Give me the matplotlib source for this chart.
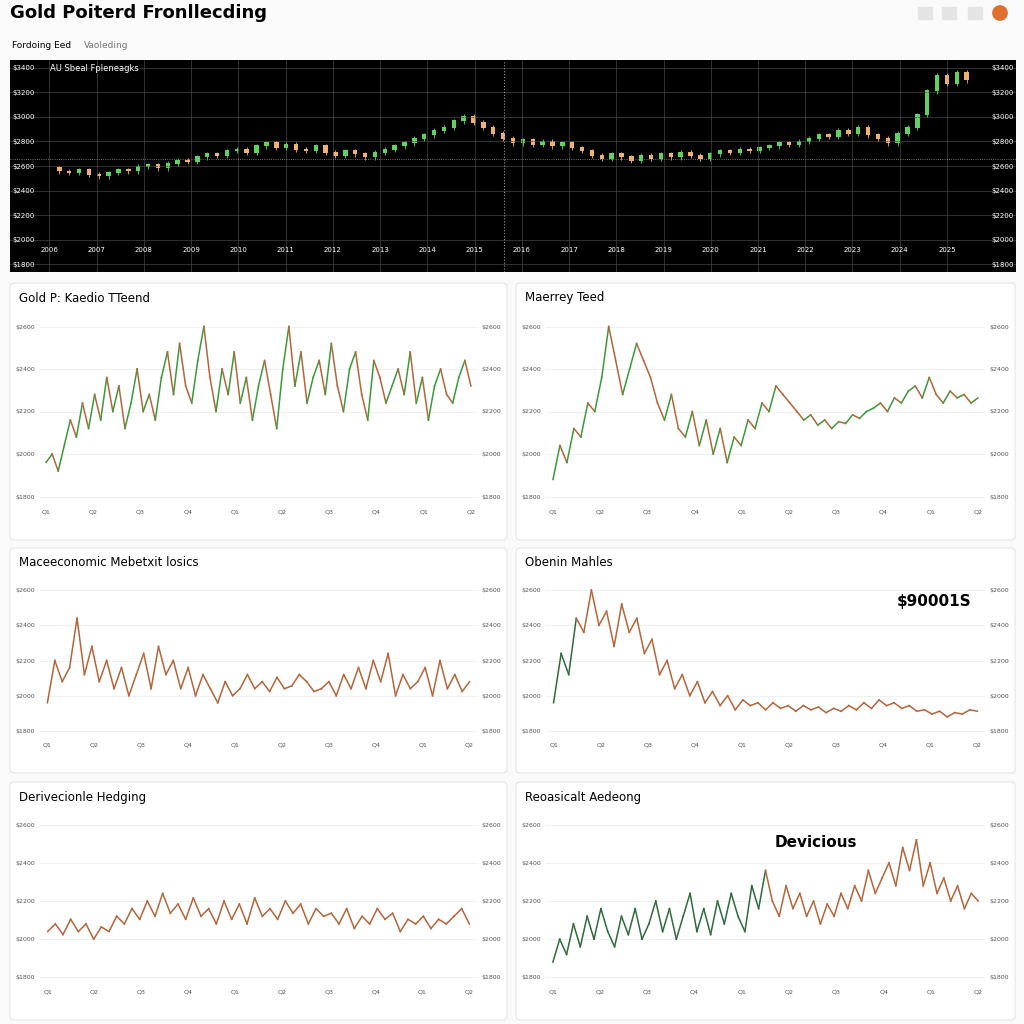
import numpy as np
import matplotlib.pyplot as plt
from matplotlib.patches import FancyBboxPatch, Rectangle

# dados (unidades relativas 0-100)
top_close = [36,34,33,35,32,31,33,35,34,37,38,36,39,41,40,43,45,44,47,48,46,50,52,49,51,48,47,50,46,44,
             47,45,43,46,48,50,52,55,57,60,62,66,69,65,62,58,55,52,54,51,53,50,52,49,47,44,42,45,43,41,
             44,42,45,43,46,44,42,45,47,46,48,47,49,50,52,51,53,55,57,56,60,58,62,57,55,52,58,62,70,85,
             95,90,97,92]
top_xlabels = ['2006','2007','2008','2009','2010','2011','2012','2013','2014','2015','2016','2017',
               '2018','2019','2020','2021','2022','2023','2024','2025']
top_ylabels = ['$3400','$3200','$3000','$2800','$2600','$2400','$2200','$2000','$1800']

trend = [20,25,15,30,45,35,55,40,60,45,70,50,65,40,55,75,50,60,45,70,85,60,90,65,55,80,100,70,50,75,
         60,85,55,70,45,65,80,60,40,75,100,65,85,55,70,80,60,90,65,50,75,85,60,45,80,70,55,65,75,60,
         85,55,70,45,65,75,60,55,70,80,65]
markov = [10,30,20,40,35,55,50,70,100,80,60,75,90,80,70,55,45,60,40,35,50,30,45,25,40,20,35,30,45,40,
          55,50,65,60,55,50,45,48,42,45,40,44,43,48,46,50,52,55,50,58,55,62,65,58,70,60,55,62,58,60,55,58]
macro = [20,50,35,45,80,40,60,35,50,30,45,25,40,55,30,60,40,50,30,45,25,40,30,20,35,25,30,40,30,35,
         28,38,30,32,40,35,28,30,35,25,40,30,45,30,50,35,55,25,40,30,35,45,25,50,30,40,28,35]
obrain = [20,55,40,80,70,100,75,85,60,90,70,80,55,65,40,50,30,40,25,35,20,28,18,25,15,22,18,20,15,
          20,16,18,14,18,15,17,13,16,14,18,15,20,16,22,18,20,16,18,14,15,12,14,10,13,12,15,14]
hedging = [30,35,28,38,30,35,25,33,30,40,35,45,38,50,40,55,42,48,38,52,40,45,35,50,38,48,35,52,40,
           45,38,50,42,48,35,45,40,42,35,45,32,40,35,45,38,42,30,38,35,40,32,38,35,40,45,35]
accord = [10,25,15,35,20,40,25,45,30,20,40,28,45,25,35,50,30,45,25,40,55,30,45,28,50,35,55,40,30,60,
          45,70,50,40,60,45,55,40,50,35,48,40,55,45,60,50,70,55,65,75,60,85,70,90,60,75,55,65,50,60,45,55,50]

green = '#3a9a3a'
brown = '#b5653a'

fig = plt.figure(figsize=(10.24, 10.24), dpi=100)
fig.patch.set_facecolor('#fafafa')

def px(x, y, w, h):
    return [x / 1024, 1 - (y + h) / 1024, w / 1024, h / 1024]

fig.text(10/1024, 1 - 13/1024, 'Gold Poiterd Fronllecding', fontsize=13, fontweight='bold', va='center')
fig.text(12/1024, 1 - 46/1024, 'Fordoing Eed', fontsize=6.5, va='center')
fig.text(84/1024, 1 - 46/1024, 'Vaoleding', fontsize=6.5, color='#777', va='center')
for xx in [924, 948, 974]:
    fig.patches.append(Rectangle((xx/1024 - 0.006, 1 - 19/1024), 0.014, 0.012,
                                 transform=fig.transFigure, color='#e4e4e4'))
fig.patches.append(plt.Circle((1000/1024, 1 - 13/1024), 0.007, transform=fig.transFigure, color='#e07030'))

# painel superior com candles
ax = fig.add_axes(px(10, 60, 1006, 212))
ax.set_facecolor('black')
n = len(top_close)
opens = [top_close[0]] + top_close[:-1]
for i in range(1, n):
    o, c = opens[i], top_close[i]
    col = '#5fd35f' if c >= o else '#f0b070'
    ax.vlines(i, min(o, c) - 1.5, max(o, c) + 1.5, color=col, lw=0.6)
    ax.bar(i, abs(c - o) + 0.6, bottom=min(o, c), width=0.45, color=col)
ax.axvline(n * 0.49, color='#999', ls=':', lw=0.8)
ax.axhline(top_close[-1] - 50, color='#999', ls=':', lw=0.6)
ax.set_xlim(-4, n + 4)
ax.set_ylim(-30, 105)
ax.set_yticks(np.linspace(100, -25, len(top_ylabels)))
ax.set_yticklabels(top_ylabels)
ax.set_xticks(np.linspace(0, n - 3, len(top_xlabels)))
ax.set_xticklabels(top_xlabels)
ax.grid(color='#444', lw=0.5)
ax.tick_params(colors='white', labelsize=5, length=0, pad=-18, labelright=True)
for s in ax.spines.values():
    s.set_visible(False)
ax.text(0.04, 0.95, 'AU Sbeal Fpleneagks', color='white', fontsize=6, transform=ax.transAxes)

def panel(x0, y0, w, h, title, data, split=None, mode='candle'):
    fig.patches.append(FancyBboxPatch((x0/1024, 1 - (y0 + h)/1024), w/1024, h/1024,
                                      boxstyle='round,pad=0,rounding_size=0.004', zorder=-1,
                                      transform=fig.transFigure, fc='white', ec='#e6e6e6', lw=0.8))
    fig.text((x0 + 9)/1024, 1 - (y0 + 15)/1024, title, fontsize=8.5, va='center')
    a = fig.add_axes(px(x0 + 30, y0 + 35, w - 60, h - 70))
    xs = np.arange(len(data))
    for i in range(1, len(data)):
        if mode == 'candle':
            col = green if data[i] >= data[i-1] else brown
        elif mode == 'split':
            col = '#2e6b3a' if i < split else brown
        else:
            col = brown
        a.plot(xs[i-1:i+1], data[i-1:i+1], color=col, lw=1.1)
    a.set_xlim(-1, len(data))
    a.set_ylim(-5, 105)
    a.set_yticks([0, 25, 50, 75, 100])
    a.set_yticklabels(['$1800', '$2000', '$2200', '$2400', '$2600'])
    a.set_xticks(np.linspace(0, len(data) - 1, 10))
    a.set_xticklabels(['Q1','Q2','Q3','Q4','Q1','Q2','Q3','Q4','Q1','Q2'])
    a.grid(axis='y', color='#eee', lw=0.6)
    a.tick_params(labelsize=4.5, colors='#555', length=0, labelright=True)
    for s in a.spines.values():
        s.set_visible(False)
    return a

panel(10, 283, 497, 257, 'Gold P: Kaedio TTeend', trend)
panel(516, 283, 499, 257, 'Maerrey Teed', markov)
panel(10, 548, 497, 225, 'Maceeconomic Mebetxit losics', macro, mode='line')
a5 = panel(516, 548, 499, 225, 'Obenin Mahles', obrain, split=4, mode='split')
a5.text(0.8, 0.85, '$90001S', fontsize=11, fontweight='bold', transform=a5.transAxes)
panel(10, 782, 497, 238, 'Derivecionle Hedging', hedging, mode='line')
a7 = panel(516, 782, 499, 238, 'Reoasicalt Aedeong', accord, split=32, mode='split')
a7.text(0.52, 0.82, 'Devicious', fontsize=11, fontweight='bold', transform=a7.transAxes)

fig.savefig('out.png', dpi=100, facecolor=fig.get_facecolor())
